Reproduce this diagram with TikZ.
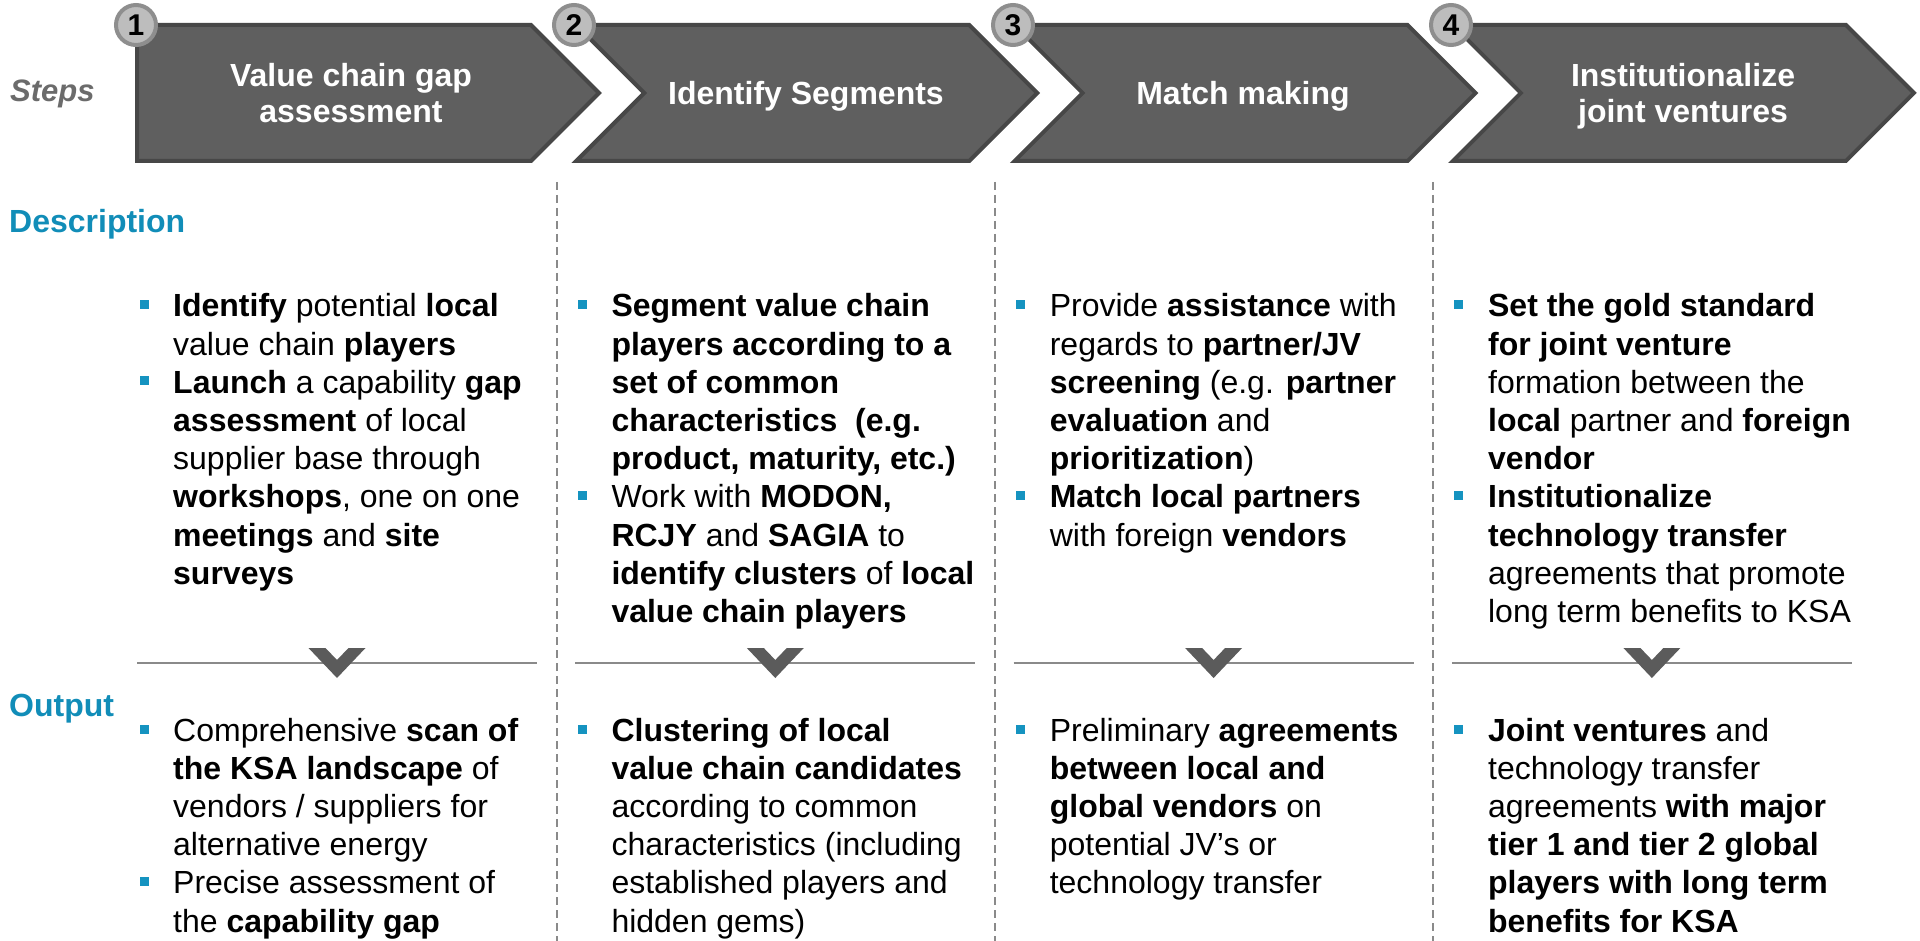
\documentclass[tikz,border=0pt]{standalone}
\usepackage{fontspec}
\setmainfont{Liberation Sans}
\definecolor{chevfill}{HTML}{5F5F5F}
\definecolor{chevline}{HTML}{474747}
\definecolor{circfill}{HTML}{BDBDBD}
\definecolor{circline}{HTML}{8E8E8E}
\definecolor{teal}{HTML}{118DB8}
\definecolor{bulcol}{HTML}{1593C0}
\definecolor{stepgray}{HTML}{6B6B6B}
\definecolor{divgray}{HTML}{8A8A8A}
\definecolor{vgray}{HTML}{5B5B5B}
\newcommand{\Lines}[1]{\vtop{\baselineskip=38.2pt\lineskiplimit=-50pt\lineskip=0pt #1}}
\begin{document}
\begin{tikzpicture}[x=1pt,y=-1pt,
  chev/.style={fill=chevfill,draw=chevline,line width=4pt,line join=miter},
  numcirc/.style={circle,fill=circfill,draw=circline,line width=4pt,minimum size=40pt,inner sep=0pt,font=\fontsize{30}{30}\selectfont\bfseries},
  ttl/.style={anchor=base,inner sep=0pt,text=white,font=\fontsize{32}{36}\selectfont\bfseries},
  txt/.style={anchor=base west,inner sep=0pt,font=\fontsize{32}{38.2}\selectfont},
  lbl/.style={anchor=base west,inner sep=0pt,text=teal,font=\fontsize{32}{36}\selectfont\bfseries},
  bul/.style={rectangle,fill=bulcol,minimum size=9pt,inner sep=0pt},
  divline/.style={draw=divgray,line width=2pt},
  vmark/.style={fill=vgray},
  sep/.style={draw=divgray,line width=2pt,dash pattern=on 8pt off 5pt}
]
\useasboundingbox (0,0) rectangle (1920,941);
\fill[white] (0,0) rectangle (1920,941);

% dashed separators
\draw[sep] (556.5,182) -- (556.5,941);
\draw[sep] (994.8,182) -- (994.8,941);
\draw[sep] (1433.1,182) -- (1433.1,941);

% chevrons
\draw[chev] (137,25) -- (531,25) -- (599,93) -- (531,161) -- (137,161) -- cycle;
\draw[chev] (576.3,25) -- (969.3,25) -- (1037.3,93) -- (969.3,161) -- (576.3,161) -- (644.3,93) -- cycle;
\draw[chev] (1014.6,25) -- (1407.6,25) -- (1475.6,93) -- (1407.6,161) -- (1014.6,161) -- (1082.6,93) -- cycle;
\draw[chev] (1452.9,25) -- (1845.9,25) -- (1913.9,93) -- (1845.9,161) -- (1452.9,161) -- (1520.9,93) -- cycle;

% numbers
\node[numcirc] (n1) at (136,25) {1};
\node[numcirc] (n2) at (574,25) {2};
\node[numcirc] (n3) at (1013,25) {3};
\node[numcirc] (n4) at (1451,25) {4};

% titles
\node[ttl] (t1a) at (351,87) {Value chain gap};
\node[ttl] (t1b) at (351,123) {assessment};
\node[ttl] (t2) at (806,105) {Identify Segments};
\node[ttl] (t3) at (1243,105) {Match making};
\node[ttl] (t4a) at (1683,87) {Institutionalize};
\node[ttl] (t4b) at (1683,123) {joint ventures};

% row labels
\node[anchor=base west,inner sep=0pt,text=stepgray,font=\fontsize{31}{36}\selectfont\bfseries\itshape] (steps) at (10,102) {Steps};
\node[lbl] (desc) at (9,233) {Description};
\node[lbl] (outp) at (9,716) {Output};

% description bullets
\node[bul] (db1a) at (144,304.5) {};
\node[bul] (db1b) at (144,380.9) {};
\node[bul] (db2a) at (582.3,304.5) {};
\node[bul] (db2b) at (582.3,495.5) {};
\node[bul] (db3a) at (1020.6,304.5) {};
\node[bul] (db3b) at (1020.6,495.5) {};
\node[bul] (db4a) at (1458.9,304.5) {};
\node[bul] (db4b) at (1458.9,495.5) {};

% description texts
\node[txt] (d1) at (173,317) {\Lines{%
\hbox{\textbf{Identify} potential \textbf{local}}
\hbox{value chain \textbf{players}}
\hbox{\textbf{Launch} a capability \textbf{gap}}
\hbox{\textbf{assessment} of local}
\hbox{supplier base through}
\hbox{\textbf{workshops}, one on one}
\hbox{\textbf{meetings} and \textbf{site}}
\hbox{\textbf{surveys}}}};
\node[txt] (d2) at (611.3,317) {\Lines{%
\hbox{\textbf{Segment value chain}}
\hbox{\textbf{players according to a}}
\hbox{\textbf{set of common}}
\hbox{\textbf{characteristics \ (e.g.}}
\hbox{\textbf{product, maturity, etc.)}}
\hbox{Work with \textbf{MODON,}}
\hbox{\textbf{RCJY} and \textbf{SAGIA} to}
\hbox{\textbf{identify clusters} of \textbf{local}}
\hbox{\textbf{value chain players}}}};
\node[txt] (d3) at (1049.6,317) {\Lines{%
\hbox{Provide \textbf{assistance} with}
\hbox{regards to \textbf{partner/JV}}
\hbox{\textbf{screening} (e.g. \textbf{partner}}
\hbox{\textbf{evaluation} and}
\hbox{\textbf{prioritization})}
\hbox{\textbf{Match local partners}}
\hbox{with foreign \textbf{vendors}}}};
\node[txt] (d4) at (1487.9,317) {\Lines{%
\hbox{\textbf{Set the gold standard}}
\hbox{\textbf{for joint venture}}
\hbox{formation between the}
\hbox{\textbf{local} partner and \textbf{foreign}}
\hbox{\textbf{vendor}}
\hbox{\textbf{Institutionalize}}
\hbox{\textbf{technology transfer}}
\hbox{agreements that promote}
\hbox{long term benefits to KSA}}};

% dividers with V marks
\draw[divline] (137,663) -- (537,663);
\draw[divline] (575.3,663) -- (975.3,663);
\draw[divline] (1013.6,663) -- (1413.6,663);
\draw[divline] (1451.9,663) -- (1851.9,663);
\fill[vmark] (308.5,648) -- (325.5,648) -- (337,660) -- (348.5,648) -- (365.5,648) -- (337,678) -- cycle;
\fill[vmark] (746.8,648) -- (763.8,648) -- (775.3,660) -- (786.8,648) -- (803.8,648) -- (775.3,678) -- cycle;
\fill[vmark] (1185.1,648) -- (1202.1,648) -- (1213.6,660) -- (1225.1,648) -- (1242.1,648) -- (1213.6,678) -- cycle;
\fill[vmark] (1623.4,648) -- (1640.4,648) -- (1651.9,660) -- (1663.4,648) -- (1680.4,648) -- (1651.9,678) -- cycle;

% output bullets
\node[bul] (ob1a) at (144,729) {};
\node[bul] (ob1b) at (144,881.8) {};
\node[bul] (ob2) at (582.3,729) {};
\node[bul] (ob3) at (1020.6,729) {};
\node[bul] (ob4) at (1458.9,729) {};

% output texts
\node[txt] (o1) at (173,741) {\Lines{%
\hbox{Comprehensive \textbf{scan of}}
\hbox{\textbf{the KSA landscape} of}
\hbox{vendors / suppliers for}
\hbox{alternative energy}
\hbox{Precise assessment of}
\hbox{the \textbf{capability gap}}}};
\node[txt] (o2) at (611.3,741) {\Lines{%
\hbox{\textbf{Clustering of local}}
\hbox{\textbf{value chain candidates}}
\hbox{according to common}
\hbox{characteristics (including}
\hbox{established players and}
\hbox{hidden gems)}}};
\node[txt] (o3) at (1049.6,741) {\Lines{%
\hbox{Preliminary \textbf{agreements}}
\hbox{\textbf{between local and}}
\hbox{\textbf{global vendors} on}
\hbox{potential JV’s or}
\hbox{technology transfer}}};
\node[txt] (o4) at (1487.9,741) {\Lines{%
\hbox{\textbf{Joint ventures} and}
\hbox{technology transfer}
\hbox{agreements \textbf{with major}}
\hbox{\textbf{tier 1 and tier 2 global}}
\hbox{\textbf{players with long term}}
\hbox{\textbf{benefits for KSA}}}};
\end{tikzpicture}
\end{document}
